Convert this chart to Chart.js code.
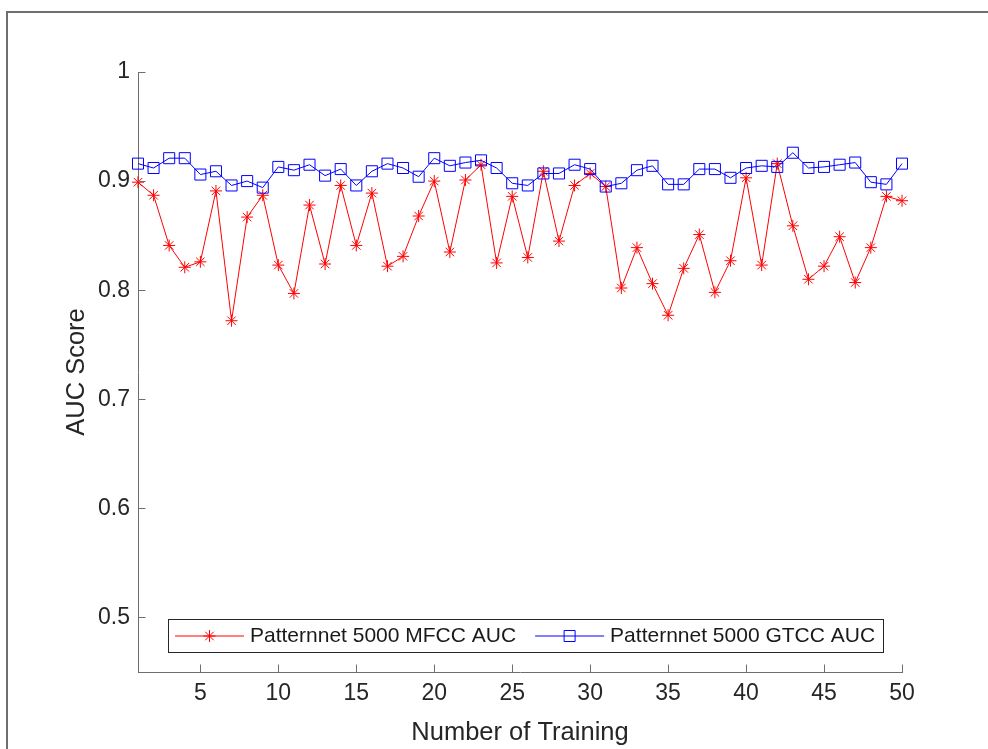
<!DOCTYPE html>
<html><head><meta charset="utf-8">
<script src="https://cdn.jsdelivr.net/npm/chart.js@4.4.1/dist/chart.umd.min.js"></script>
<style>
html,body{margin:0;padding:0;background:#fff;}
#wrap{position:relative;width:988px;height:749px;overflow:hidden;background:#fff;}
#frame{position:absolute;left:6px;top:11px;right:-10px;bottom:-10px;border-left:2px solid #6e6e6e;border-top:2px solid #6e6e6e;pointer-events:none;}
canvas{position:absolute;left:0;top:0;}
</style></head><body>
<div id="wrap"><canvas id="c" width="988" height="749"></canvas><div id="frame"></div></div>
<script>
const runs = [1,2,3,4,5,6,7,8,9,10,11,12,13,14,15,16,17,18,19,20,21,22,23,24,25,26,27,28,29,30,31,32,33,34,35,36,37,38,39,40,41,42,43,44,45,46,47,48,49,50];
const mfccAUC = [0.899,0.887,0.841,0.821,0.826,0.891,0.772,0.867,0.887,0.823,0.797,0.878,0.824,0.896,0.841,0.889,0.822,0.831,0.868,0.900,0.835,0.901,0.915,0.825,0.886,0.830,0.909,0.845,0.896,0.907,0.895,0.802,0.839,0.806,0.777,0.820,0.851,0.798,0.827,0.903,0.823,0.916,0.859,0.810,0.822,0.849,0.807,0.839,0.886,0.882];
const gtccAUC = [0.916,0.912,0.921,0.921,0.906,0.909,0.896,0.900,0.894,0.913,0.910,0.915,0.905,0.911,0.896,0.909,0.916,0.912,0.904,0.921,0.914,0.917,0.919,0.912,0.898,0.896,0.907,0.907,0.915,0.911,0.895,0.898,0.910,0.914,0.897,0.897,0.911,0.911,0.903,0.912,0.914,0.913,0.926,0.912,0.913,0.915,0.917,0.899,0.897,0.916];
const xTicks = [5,10,15,20,25,30,35,40,45,50];
const yTicks = [0.5,0.6,0.7,0.8,0.9,1];
const seriesNames = ['Patternnet 5000 MFCC AUC','Patternnet 5000 GTCC AUC'];
const xTitle = 'Number of Training';
const yTitle = 'AUC Score';

const FONT = '"Liberation Sans", Arial, Helvetica, sans-serif';
const AXIS_COLOR = '#6e6e6e';
const TEXT_COLOR = '#262626';

const inwardTicks = {
  id: 'inwardTicks',
  afterDraw(chart) {
    const ctx = chart.ctx, xs = chart.scales.x, ys = chart.scales.y, ca = chart.chartArea;
    const len = 7.5;
    ctx.save();
    ctx.strokeStyle = AXIS_COLOR; ctx.lineWidth = 1;
    ctx.beginPath();
    xs.ticks.forEach(t => {
      const px = Math.round(xs.getPixelForValue(t.value)) + 0.5;
      ctx.moveTo(px, ca.bottom); ctx.lineTo(px, ca.bottom - len);
    });
    ys.ticks.forEach(t => {
      const py = Math.round(ys.getPixelForValue(t.value)) + 0.5;
      ctx.moveTo(ca.left, py); ctx.lineTo(ca.left + len, py);
    });
    ctx.stroke();
    ctx.restore();
  }
};

const matlabLegend = {
  id: 'matlabLegend',
  afterDraw(chart) {
    const {ctx, chartArea} = chart;
    ctx.save();
    ctx.font = '21px ' + FONT;
    const dsets = chart.data.datasets;
    const padL = 7, lineLen = 69, gapT = 6, gapItem = 19, padR = 8;
    const widths = dsets.map(d => ctx.measureText(d.label).width);
    let total = padL;
    widths.forEach((w, i) => { total += lineLen + gapT + w + (i < widths.length - 1 ? gapItem : padR); });
    const left = chartArea.left + 30, h = 33, top = chartArea.bottom - 53;
    ctx.fillStyle = '#fff';
    ctx.fillRect(left, top, total, h);
    ctx.strokeStyle = '#262626'; ctx.lineWidth = 1;
    ctx.strokeRect(left + 0.5, top + 0.5, Math.round(total), h);
    let x = left + padL;
    const cy = top + h / 2 + 0.5;
    dsets.forEach((d, i) => {
      ctx.strokeStyle = d.borderColor; ctx.lineWidth = 1;
      ctx.beginPath(); ctx.moveTo(x, cy); ctx.lineTo(x + lineLen, cy); ctx.stroke();
      ctx.fillStyle = 'rgba(0,0,0,0)';
      ctx.strokeStyle = d.pointBorderColor;
      Chart.helpers.drawPoint(ctx, {pointStyle: d.pointStyle, radius: d.pointRadius, rotation: 0, borderWidth: 1}, x + lineLen / 2, cy);
      ctx.fillStyle = '#1a1a1a';
      ctx.textBaseline = 'middle'; ctx.textAlign = 'left';
      ctx.fillText(d.label, x + lineLen + gapT, cy);
      x += lineLen + gapT + widths[i] + gapItem;
    });
    ctx.restore();
  }
};

new Chart(document.getElementById('c'), {
  type: 'line',
  data: {
    datasets: [
      {
        label: seriesNames[0],
        data: runs.map((r, i) => ({x: r, y: mfccAUC[i]})),
        borderColor: '#ff0000', borderWidth: 1,
        pointStyle: 'star', pointRadius: 6, pointBorderColor: '#ff0000', pointBorderWidth: 1,
        pointBackgroundColor: 'rgba(0,0,0,0)', tension: 0, clip: false, order: 1
      },
      {
        label: seriesNames[1],
        data: runs.map((r, i) => ({x: r, y: gtccAUC[i]})),
        borderColor: '#0000ff', borderWidth: 1,
        pointStyle: 'rect', pointRadius: 7.8, pointBorderColor: '#0000ff', pointBorderWidth: 1,
        pointBackgroundColor: 'rgba(0,0,0,0)', tension: 0, clip: false, order: 0
      }
    ]
  },
  options: {
    responsive: false, animation: false, devicePixelRatio: 1, events: [],
    layout: {padding: {left: 0, top: 72, right: 86, bottom: 0}},
    plugins: {legend: {display: false}, tooltip: {enabled: false}},
    scales: {
      x: {
        type: 'linear', min: 1, max: 50, offset: false,
        afterBuildTicks: s => { s.ticks = xTicks.map(v => ({value: v})); },
        afterFit: s => { s.height = 77; },
        grid: {display: true, drawOnChartArea: false, drawTicks: false},
        border: {display: true, color: AXIS_COLOR, width: 1},
        ticks: {autoSkip: false, maxRotation: 0, padding: 8, color: TEXT_COLOR,
                font: {family: FONT, size: 23}, callback: v => String(v)},
        title: {display: true, text: xTitle, color: TEXT_COLOR,
                font: {family: FONT, size: 25.5}, padding: {top: 0, bottom: 1}}
      },
      y: {
        type: 'linear', min: 0.45, max: 1,
        afterBuildTicks: s => { s.ticks = yTicks.map(v => ({value: v})); },
        afterFit: s => { s.width = 138; },
        grid: {display: true, drawOnChartArea: false, drawTicks: false},
        border: {display: true, color: AXIS_COLOR, width: 1},
        ticks: {autoSkip: false, padding: 8, color: TEXT_COLOR,
                font: {family: FONT, size: 23}, callback: v => String(Number(v.toFixed(2)))},
        title: {display: true, text: yTitle, color: TEXT_COLOR,
                font: {family: FONT, size: 25.5}, padding: {top: 62, bottom: 0}}
      }
    }
  },
  plugins: [inwardTicks, matlabLegend]
});
</script>
</body></html>
